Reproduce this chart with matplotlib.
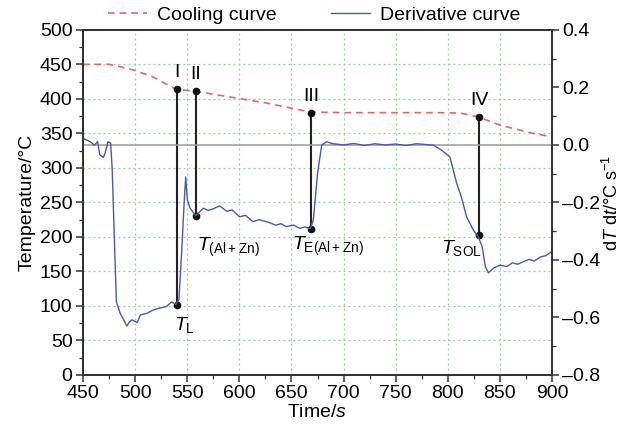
import matplotlib
matplotlib.use('Agg')

import matplotlib.pyplot as plt
import numpy as np
from matplotlib.ticker import MultipleLocator

plt.rcParams['font.family'] = ['Liberation Sans', 'DejaVu Sans']
plt.rcParams['mathtext.fontset'] = 'custom'
plt.rcParams['mathtext.rm'] = 'Liberation Sans'
plt.rcParams['mathtext.it'] = 'Liberation Sans:italic'
plt.rcParams['font.size'] = 14

# cooling curve (left axis, degC)
cool_t = [450, 475, 479, 498, 517, 539, 558, 594, 626, 668, 700, 750, 790, 812, 829, 850, 882, 900]
cool_T = [450, 450, 449, 442, 432, 414, 411, 402, 394, 381, 380, 380, 380, 379.5, 374, 362, 350, 345]

# derivative curve (right axis, degC/s)
der_t = [450, 454, 457, 461, 464, 466, 469.5, 471, 474, 476.5, 478, 480, 482, 485.5, 489, 492,
         494, 497, 502, 505, 511, 517.5, 524, 530, 535, 539, 542, 544.6, 547, 548.5, 550, 552.6,
         558, 565.5, 570, 575, 581, 588, 593, 600, 606, 613, 619, 626, 630, 635, 640, 645, 652,
         658, 663, 668, 671, 675, 679, 683.6, 690, 700, 710, 720, 730, 740, 750, 760, 770, 780,
         786, 794, 802, 808.5, 813, 818, 824.5, 829, 833, 836, 839, 844, 850, 856.5, 862, 867,
         872.5, 878, 883, 888.6, 894, 900]
der_v = [0.023, 0.016, 0.011, -0.001, 0.011, -0.034, -0.044, -0.030, 0.011, 0.006, -0.087, -0.32,
         -0.546, -0.584, -0.608, -0.630, -0.618, -0.608, -0.618, -0.591, -0.586, -0.574, -0.567,
         -0.562, -0.546, -0.555, -0.538, -0.375, -0.202, -0.111, -0.190, -0.219, -0.246, -0.220,
         -0.228, -0.222, -0.212, -0.231, -0.226, -0.250, -0.245, -0.267, -0.260, -0.267, -0.272,
         -0.279, -0.274, -0.284, -0.279, -0.290, -0.285, -0.291, -0.26, -0.099, -0.001, 0.011,
         0.004, 0.0, 0.005, -0.002, 0.004, 0.0, 0.003, -0.002, 0.004, 0.001, -0.001, -0.018,
         -0.042, -0.133, -0.181, -0.250, -0.296, -0.318, -0.354, -0.423, -0.445, -0.428, -0.418,
         -0.423, -0.410, -0.415, -0.406, -0.398, -0.404, -0.390, -0.385, -0.370]

# characteristic points
event_t = [540, 558, 669, 830]
event_cool = [414, 411, 380, 374]
event_der = [-0.555, -0.246, -0.292, -0.315]
event_names = ['I', 'II', 'III', 'IV']
temp_labels = [r'$T_{\mathrm{L}}$', r'$T_{\mathrm{(Al+Zn)}}$',
               r'$T_{\mathrm{E(Al+Zn)}}$', r'$T_{\mathrm{SOL}}$']
label_offsets = [(-3, -20), (1, -32), (-19, -18), (-38, -13)]

red = '#de6b68'
blue = '#4a5aa8'
spine_col = '#333333'

fig = plt.figure(figsize=(6.22, 4.33), dpi=100)
ax = fig.add_axes([0.1335, 0.134, 0.754, 0.797])
ax2 = ax.twinx()

ax.set_xlim(450, 900)
ax.set_ylim(0, 500)
ax2.set_ylim(-0.8, 0.4)

ax.grid(True, which='major', linestyle=(0, (1.5, 2.5)), color='#8ed48e', linewidth=0.9)
ax2.axhline(0, color='#9a9a9a', linewidth=1.1, zorder=1)

l1, = ax.plot(cool_t, cool_T, color=red, linestyle=(0, (4, 3)), linewidth=1.2, label='Cooling curve')
l2, = ax2.plot(der_t, der_v, color=blue, linewidth=1.0, label='Derivative curve')

# vertical connectors drawn on the left axis, derivative end mapped through ax2
for t, tc, d, name, lab, off in zip(event_t, event_cool, event_der, event_names, temp_labels, label_offsets):
    disp = ax2.transData.transform((t, d))
    _, yb = ax.transData.inverted().transform(disp)
    ax.plot([t, t], [tc, yb], color='#222222', linewidth=1.5, zorder=5)
    ax.plot([t, t], [tc, yb], 'o', color='#111111', markersize=4.5, zorder=6)
    ax.annotate(name, (t, tc), xytext=(0, 8), textcoords='offset pixels',
                ha='center', va='bottom')
    ax.annotate(lab, (t, yb), xytext=off, textcoords='offset pixels',
                ha='left', va='center')

ax.xaxis.set_major_locator(MultipleLocator(50))
ax.xaxis.set_minor_locator(MultipleLocator(25))
ax.yaxis.set_major_locator(MultipleLocator(50))
ax.yaxis.set_minor_locator(MultipleLocator(25))
ax2.yaxis.set_major_locator(MultipleLocator(0.2))
ax2.yaxis.set_minor_locator(MultipleLocator(0.1))
ax2.yaxis.set_major_formatter(plt.FuncFormatter(lambda v, p: f'{v:.1f}'.replace('-', '\u2013')))

for a in (ax, ax2):
    a.tick_params(which='major', direction='out', length=5, width=1.1, color=spine_col, pad=2.5)
    a.tick_params(which='minor', direction='out', length=3, width=0.9, color=spine_col)
    for s in a.spines.values():
        s.set_color(spine_col)
        s.set_linewidth(1.3)

ax.set_xlabel(r'Time/$s$', labelpad=1)
ax.set_ylabel('Temperature/°C', labelpad=3)
ax2.set_ylabel('d$T$ d$t$/°C s$^{-1}$', rotation=90, fontsize=13)
ax2.yaxis.set_label_coords(1.106, 0.5)

fig.legend([l1, l2], ['Cooling curve', 'Derivative curve'], loc='center',
           bbox_to_anchor=(0.505, 0.965), ncol=2, frameon=False, handlelength=2.0,
           handletextpad=0.5, columnspacing=2.8, borderaxespad=0)

fig.savefig('out.png', dpi=100)
